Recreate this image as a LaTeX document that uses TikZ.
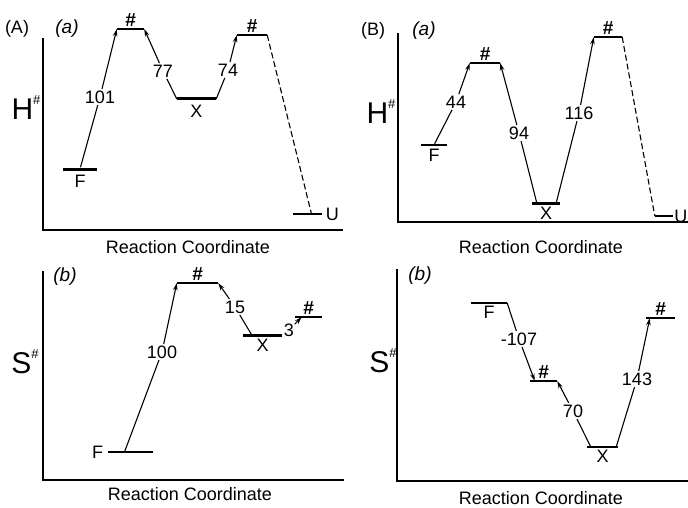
\documentclass[tikz,border=0pt]{standalone}
\usepackage{fontspec}
\setmainfont{Liberation Sans}
\usetikzlibrary{positioning, arrows.meta}
\newcommand{\hsup}{\raisebox{0.5em}{\fontsize{13}{13}\selectfont\#}}
\begin{document}
\begin{tikzpicture}[x=1pt, y=-1pt, >={Stealth[length=7.5pt, width=4.5pt]},
  lvl/.style={fill, inner sep=0pt, minimum height=2pt, minimum width=#1},
  lvlb/.style={lvl=#1, minimum height=3pt},
  lvlu/.style={lvl=#1, minimum height=1.3pt},
  txt/.style={font=\fontsize{18}{20}\selectfont, inner sep=1.5pt},
  pnl/.style={font=\fontsize{19}{20}\selectfont\itshape, inner sep=1.5pt},
  ts/.style={font=\fontsize{19}{20}\selectfont\bfseries\itshape, inner sep=1pt},
  big/.style={font=\fontsize{30}{32}\selectfont, inner sep=1pt},
  ax/.style={line width=1.5pt},
  con/.style={line width=1.1pt},
  dsh/.style={con, dash pattern=on 6pt off 3pt}]
  \useasboundingbox (0,0) rectangle (688,508);

  % (A)(a) エンタルピー
  \draw[ax] (43,38) |- (343,230);
  \node[txt] (Alab) at (17,29) {(A)};
  \node[pnl] (AaLab) at (67,29) {(a)};
  \node[big] (AaH) at (26,108) {H\hsup};
  \node[txt] (AaRC) at (188,247) {Reaction Coordinate};
  \node[lvlb=34pt] (AaF) at (80,169) {};
  \node[lvl=27pt] (AaT1) at (130.5,29) {};
  \node[lvlb=39pt] (AaX) at (196.5,99) {};
  \node[lvl=30pt] (AaT2) at (252,35) {};
  \node[lvlu=29pt] (AaU) at (307.5,214) {};
  \node[txt, below=3pt of AaF] (AaFt) {F};
  \node[ts, above=0pt of AaT1] (AaT1t) {\#};
  \node[txt, below=3pt of AaX] (AaXt) {X};
  \node[ts, above=0pt of AaT2] (AaT2t) {\#};
  \node[txt, right=2pt of AaU] (AaUt) {U};
  \node[txt] (n101) at (100,97) {101};
  \node[txt] (n77) at (163,71) {77};
  \node[txt] (n74) at (228,70) {74};
  \draw[con] (AaF) -- (n101);
  \draw[con, ->] (n101) -- (AaT1.west);
  \draw[con] (AaX.west) -- (n77);
  \draw[con, ->] (n77) -- (AaT1.east);
  \draw[con] (AaX.east) -- (n74);
  \draw[con, ->] (n74) -- (AaT2.west);
  \draw[dsh] (AaT2.east) -- ([xshift=4pt]AaU.center);

  % (B)(a) エンタルピー
  \draw[ax] (398,33) |- (688,222);
  \node[txt] (Blab) at (373,31) {(B)};
  \node[pnl] (BaLab) at (424,31) {(a)};
  \node[big] (BaH) at (381,112) {H\hsup};
  \node[txt] (BaRC) at (541,247) {Reaction Coordinate};
  \node[lvl=26pt] (BaF) at (434,145) {};
  \node[lvl=30pt] (BaT1) at (485,63) {};
  \node[lvlb=28pt] (BaX) at (546,203) {};
  \node[lvl=28pt] (BaT2) at (608,37) {};
  \node[lvlu=18pt] (BaU) at (664,216) {};
  \node[txt, below=1pt of BaF] (BaFt) {F};
  \node[ts, above=0pt of BaT1] (BaT1t) {\#};
  \node[txt, below=1pt of BaX] (BaXt) {X};
  \node[ts, above=0pt of BaT2] (BaT2t) {\#};
  \node[txt, right=0.5pt of BaU, inner sep=0.5pt] (BaUt) {U};
  \node[txt] (n44) at (456,102) {44};
  \node[txt] (n94) at (519,133) {94};
  \node[txt] (n116) at (579,113) {116};
  \draw[con] (BaF) -- (n44);
  \draw[con, ->] (n44) -- (BaT1.west);
  \draw[con] ([xshift=5pt]BaX.west) -- (n94);
  \draw[con, ->] (n94) -- (BaT1.east);
  \draw[con] ([xshift=-4pt]BaX.east) -- (n116);
  \draw[con, ->] (n116) -- (BaT2.west);
  \draw[dsh] (BaT2.east) -- (BaU.west);

  % (A)(b) エントロピー
  \draw[ax] (43,271) |- (344,480);
  \node[pnl] (AbLab) at (65,277) {(b)};
  \node[big] (AbS) at (25,362) {S\hsup};
  \node[txt] (AbRC) at (190,494) {Reaction Coordinate};
  \node[lvl=45pt] (AbF) at (130.5,452) {};
  \node[lvl=41pt] (AbT1) at (197.5,283) {};
  \node[lvlb=39pt] (AbX) at (262.5,335) {};
  \node[lvl=27pt] (AbT2) at (308.5,317) {};
  \node[txt, left=3pt of AbF] (AbFt) {F};
  \node[ts, above=0pt of AbT1] (AbT1t) {\#};
  \node[txt, below=1pt of AbX] (AbXt) {X};
  \node[ts, above=0pt of AbT2] (AbT2t) {\#};
  \node[txt] (n100) at (162,352) {100};
  \node[txt] (n15) at (235,307) {15};
  \node[txt, inner sep=0.5pt] (n3) at (289,330) {3};
  \draw[con] ([xshift=-6pt]AbF.center) -- (n100);
  \draw[con, ->] (n100) -- (AbT1.west);
  \draw[con] ([xshift=9pt]AbX.west) -- (n15);
  \draw[con, ->] (n15) -- (AbT1.east);
  \draw[con, ->] (n3) -- ([xshift=7pt]AbT2.west);

  % (B)(b) エントロピー
  \draw[ax] (397,269) |- (688,481);
  \node[pnl] (BbLab) at (420,276) {(b)};
  \node[big] (BbS) at (383,361) {S\hsup};
  \node[txt] (BbRC) at (541,498) {Reaction Coordinate};
  \node[lvl=36pt] (BbF) at (489,303) {};
  \node[lvl=27pt] (BbT1) at (543.5,381) {};
  \node[lvl=31pt] (BbX) at (602.5,447) {};
  \node[lvl=29pt] (BbT2) at (660.5,318) {};
  \node[txt, below=0pt of BbF] (BbFt) {F};
  \node[ts, above=0pt of BbT1] (BbT1t) {\#};
  \node[txt, below=0pt of BbX] (BbXt) {X};
  \node[ts, above=0pt of BbT2] (BbT2t) {\#};
  \node[txt] (n107) at (519,339) {-107};
  \node[txt] (n70) at (573,411) {70};
  \node[txt] (n143) at (637,379) {143};
  \draw[con] (BbF.east) -- (n107);
  \draw[con, ->] (n107) -- ([xshift=5pt]BbT1.west);
  \draw[con] ([xshift=4pt]BbX.west) -- (n70);
  \draw[con, ->] (n70) -- (BbT1.east);
  \draw[con] ([xshift=-2pt]BbX.east) -- (n143);
  \draw[con, ->] (n143) -- ([xshift=4pt]BbT2.west);
\end{tikzpicture}
\end{document}
